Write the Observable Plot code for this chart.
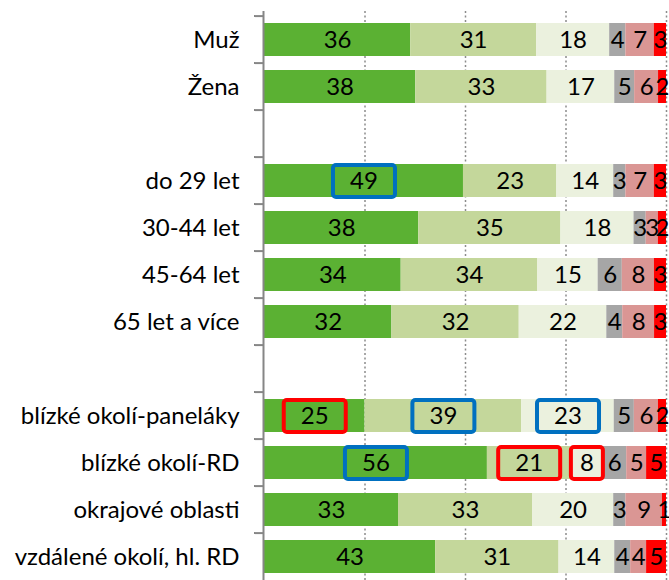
<!DOCTYPE html>
<html><head><meta charset="utf-8">
<script src="https://cdn.jsdelivr.net/npm/d3@7"></script>
<script src="https://cdn.jsdelivr.net/npm/@observablehq/plot@0.6"></script>
<style>html,body{margin:0;padding:0;background:#fff} svg{display:block}</style>
</head><body><div id="chart"></div>
<script>
// Categories (two blank spacer rows separate the groups)
const categories = ["Muž", "Žena", " ", "do 29 let", "30-44 let", "45-64 let", "65 let a více", "  ",
  "blízké okolí-paneláky", "blízké okolí-RD", "okrajové oblasti", "vzdálené okolí, hl. RD"];
// Six answer series, left to right
const seriesKeys = ["s1", "s2", "s3", "s4", "s5", "s6"];
const seriesColors = ["#5BB133", "#C4D79B", "#EBF1DE", "#A6A6A6", "#DA9694", "#FF0000"];
const s1 = [36, 38, null, 49, 38, 34, 32, null, 25, 56, 33, 43];
const s2 = [31, 33, null, 23, 35, 34, 32, null, 39, 21, 33, 31];
const s3 = [18, 17, null, 14, 18, 15, 22, null, 23, 8, 20, 14];
const s4 = [4, 5, null, 3, 3, 6, 4, null, 5, 6, 3, 4];
const s5 = [7, 6, null, 7, 3, 8, 8, null, 6, 5, 9, 4];
const s6 = [3, 2, null, 3, 2, 3, 3, null, 2, 5, 1, 5];
// Highlighted labels (boxed in the original)
const hlCategory = ["do 29 let", "blízké okolí-paneláky", "blízké okolí-paneláky", "blízké okolí-paneláky",
  "blízké okolí-RD", "blízké okolí-RD", "blízké okolí-RD"];
const hlSeries = ["s1", "s1", "s2", "s3", "s1", "s2", "s3"];
const hlColor = ["blue", "red", "blue", "blue", "blue", "red", "red"];

const allSeries = [s1, s2, s3, s4, s5, s6];
const colorOf = Object.fromEntries(seriesKeys.map((k, i) => [k, seriesColors[i]]));
const boxColors = {blue: "#0070C0", red: "#FF0000"};
const hlMap = new Map(hlCategory.map((c, i) => [c + "|" + hlSeries[i], boxColors[hlColor[i]]]));

const table = [];
categories.forEach((c, ci) => {
  allSeries.forEach((vals, si) => {
    if (vals[ci] != null) table.push({category: c, series: seriesKeys[si], value: vals[ci]});
  });
});

function roundRect(w, h, r) {
  return {
    draw(ctx) {
      const x0 = -w / 2, y0 = -h / 2, x1 = w / 2, y1 = h / 2;
      ctx.moveTo(x0 + r, y0);
      ctx.lineTo(x1 - r, y0);
      ctx.arcTo(x1, y0, x1, y0 + r, r);
      ctx.lineTo(x1, y1 - r);
      ctx.arcTo(x1, y1, x1 - r, y1, r);
      ctx.lineTo(x0 + r, y1);
      ctx.arcTo(x0, y1, x0, y1 - r, r);
      ctx.lineTo(x0, y0 + r);
      ctx.arcTo(x0, y0, x0 + r, y0, r);
      ctx.closePath();
    }
  };
}
const wideBox = roundRect(62, 32, 3);
const narrowBox = roundRect(32, 32, 3);

const stack = (opts) => Plot.stackX({offset: "normalize"}, {x: "value", y: "category", z: "series", ...opts});
const yRange = [11, 584.5];
const halfStep = (yRange[1] - yRange[0]) / categories.length / 2;

const chart = Plot.plot({
  width: 669,
  height: 580,
  marginLeft: 264,
  marginRight: 3,
  marginTop: 11,
  marginBottom: 0,
  style: {fontFamily: "Lato, 'Open Sans', sans-serif", fontSize: "24px", color: "#000", background: "#fff"},
  x: {domain: [0, 1], axis: null},
  y: {domain: categories, range: yRange, paddingInner: 0.29, paddingOuter: 0.145, label: null},
  marks: [
    Plot.ruleX([0.25, 0.5, 0.75, 1], {stroke: "#8c8c8c", strokeWidth: 1.5, strokeDasharray: "2,2.5"}),
    Plot.barX(table, stack({fill: d => colorOf[d.series]})),
    Plot.text(table, stack({text: d => String(d.value), fill: "#000", fontSize: 24})),
    Plot.dot(table, stack({
      symbol: wideBox, fill: "none", strokeWidth: 4,
      stroke: d => String(d.value).length > 1 ? (hlMap.get(d.category + "|" + d.series) ?? null) : null
    })),
    Plot.dot(table, stack({
      symbol: narrowBox, fill: "none", strokeWidth: 4,
      stroke: d => String(d.value).length === 1 ? (hlMap.get(d.category + "|" + d.series) ?? null) : null
    })),
    Plot.ruleX([0], {stroke: "#868686", strokeWidth: 2, dx: -1}),
    Plot.axisY({tickSize: 10, tickFormat: () => "", dy: -halfStep, stroke: "#868686", strokeWidth: 2, label: null}),
    Plot.axisY({tickSize: 0, tickPadding: 25, fontSize: 24, fill: "#000", label: null})
  ]
});
document.getElementById("chart").appendChild(chart);
</script>
</body></html>
